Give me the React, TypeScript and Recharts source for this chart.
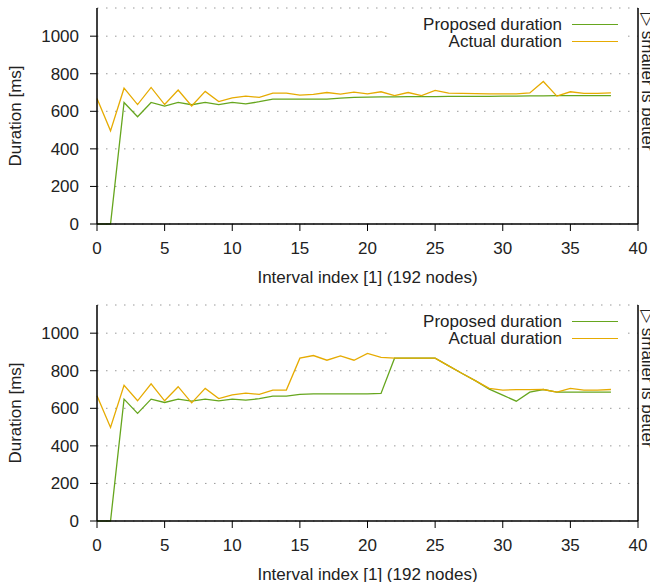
import { CartesianGrid, Legend, Line, LineChart, XAxis, YAxis } from 'recharts'

const intervals = [
  0, 1, 2, 3, 4, 5, 6, 7, 8, 9, 10, 11, 12, 13, 14, 15, 16, 17, 18, 19, 20, 21, 22, 23, 24, 25, 26, 27, 28, 29,
  30, 31, 32, 33, 34, 35, 36, 37, 38
]

// upper panel
const proposedTop = [
  0, 0, 647, 571, 647, 628, 647, 635, 647, 636, 647, 640, 651, 665, 665, 665, 665, 665, 670, 674, 676, 677, 677,
  678, 678, 678, 679, 679, 680, 680, 681, 681, 682, 682, 683, 683, 683, 683, 683
]
const actualTop = [
  668, 496, 723, 636, 727, 636, 713, 628, 706, 652, 672, 681, 674, 697, 697, 686, 690, 700, 691, 702, 693, 704,
  684, 700, 684, 711, 697, 695, 694, 693, 693, 693, 698, 759, 681, 704, 695, 695, 698
]

// lower panel
const proposedBottom = [
  0, 0, 649, 573, 649, 631, 649, 638, 649, 640, 649, 644, 651, 665, 665, 674, 677, 677, 677, 677, 677, 679, 867,
  867, 867, 867, 826, 785, 746, 702, 670, 638, 686, 700, 686, 686, 686, 686, 686
]
const actualBottom = [
  667, 498, 723, 640, 730, 640, 715, 629, 706, 652, 672, 681, 674, 697, 697, 867, 881, 856, 879, 856, 892, 871,
  867, 867, 867, 867, 826, 785, 746, 706, 697, 699, 699, 700, 686, 706, 697, 697, 700
]

const xTicks = [0, 5, 10, 15, 20, 25, 30, 35, 40]
const yTicks = [0, 200, 400, 600, 800, 1000]

const GREEN = '#66a61e'
const ORANGE = '#e6ab02'
const FONT = '"Liberation Sans", Arial, Helvetica, sans-serif'

const YTitle = ({ viewBox }: any) => {
  const cx = viewBox.x + 15
  const cy = viewBox.y + viewBox.height / 2
  return (
    <text
      x={cx}
      y={cy}
      transform={`rotate(-90 ${cx} ${cy})`}
      textAnchor="middle"
      dominantBaseline="central"
      fontSize={17}
      fill="#222"
      fontFamily={FONT}
    >
      Duration [ms]
    </text>
  )
}

const XTitle = ({ viewBox }: any) => (
  <text
    x={viewBox.x + viewBox.width / 2}
    y={viewBox.y + 58.5}
    textAnchor="middle"
    fontSize={17}
    fill="#222"
    fontFamily={FONT}
  >
    Interval index [1] (192 nodes)
  </text>
)

const SideNote = ({ viewBox }: any) => {
  const x = viewBox.x + 3.5
  const y = viewBox.y + 5
  return (
    <text x={x} y={y} transform={`rotate(90 ${x} ${y})`} fontSize={17} fill="#222" fontFamily={FONT}>
      ▷ smaller is better
    </text>
  )
}

const LegendBox = () => (
  <div style={{ background: '#fff', paddingTop: 4, paddingBottom: 3, fontFamily: FONT, fontSize: 17, color: '#222' }}>
    {[
      ['Proposed duration', GREEN],
      ['Actual duration', ORANGE]
    ].map(([name, color]) => (
      <div key={name} style={{ display: 'flex', justifyContent: 'flex-end', alignItems: 'center', height: 17 }}>
        <span style={{ lineHeight: '17px' }}>{name}</span>
        <div style={{ width: 46, borderTop: `1.5px solid ${color}`, marginLeft: 10, marginRight: 10 }} />
      </div>
    ))}
  </div>
)

const Panel = ({ proposed, actual }: { proposed: number[]; actual: number[] }) => {
  const data = intervals.map((x, i) => ({ x, proposed: proposed[i], actual: actual[i] }))
  return (
    <LineChart width={650} height={297} data={data} margin={{ top: 8, right: 0, bottom: 0, left: 0 }}>
      <CartesianGrid vertical={false} stroke="#999" strokeDasharray="1.5 7.5" />
      <XAxis
        dataKey="x"
        type="number"
        domain={[0, 40]}
        ticks={xTicks}
        height={73}
        tickSize={7}
        tickMargin={11}
        tick={{ fill: '#222', fontSize: 17, fontFamily: FONT }}
        tickLine={{ stroke: '#000' }}
        axisLine={{ stroke: '#000', strokeWidth: 1.5 }}
        label={<XTitle />}
      />
      <XAxis
        xAxisId="top"
        orientation="top"
        dataKey="x"
        type="number"
        domain={[0, 40]}
        height={0}
        tick={false}
        tickLine={false}
        axisLine={{ stroke: '#000', strokeWidth: 1.5 }}
      />
      <YAxis
        domain={[0, 1150]}
        ticks={yTicks}
        width={97}
        tickSize={7}
        tickMargin={11}
        tick={{ fill: '#222', fontSize: 17, fontFamily: FONT }}
        tickLine={{ stroke: '#000' }}
        axisLine={{ stroke: '#000', strokeWidth: 1.5 }}
        label={<YTitle />}
      />
      <YAxis
        yAxisId="r"
        orientation="right"
        domain={[0, 1]}
        width={12}
        tick={false}
        tickLine={false}
        axisLine={{ stroke: '#000', strokeWidth: 1.5 }}
        label={<SideNote />}
      />
      <Legend
        layout="horizontal"
        verticalAlign="middle"
        align="center"
        content={<LegendBox />}
        wrapperStyle={{ left: 393, top: 12, width: 235, height: 'auto' }}
      />
      <Line
        type="linear"
        dataKey="proposed"
        name="Proposed duration"
        stroke={GREEN}
        strokeWidth={1.3}
        dot={false}
        isAnimationActive={false}
      />
      <Line
        type="linear"
        dataKey="actual"
        name="Actual duration"
        stroke={ORANGE}
        strokeWidth={1.3}
        dot={false}
        isAnimationActive={false}
      />
    </LineChart>
  )
}

export default function App() {
  return (
    <div
      style={{
        position: 'absolute',
        left: 0,
        top: 0,
        width: 650,
        height: 582,
        overflow: 'hidden',
        background: '#fff'
      }}
    >
      <Panel proposed={proposedTop} actual={actualTop} />
      <Panel proposed={proposedBottom} actual={actualBottom} />
    </div>
  )
}
